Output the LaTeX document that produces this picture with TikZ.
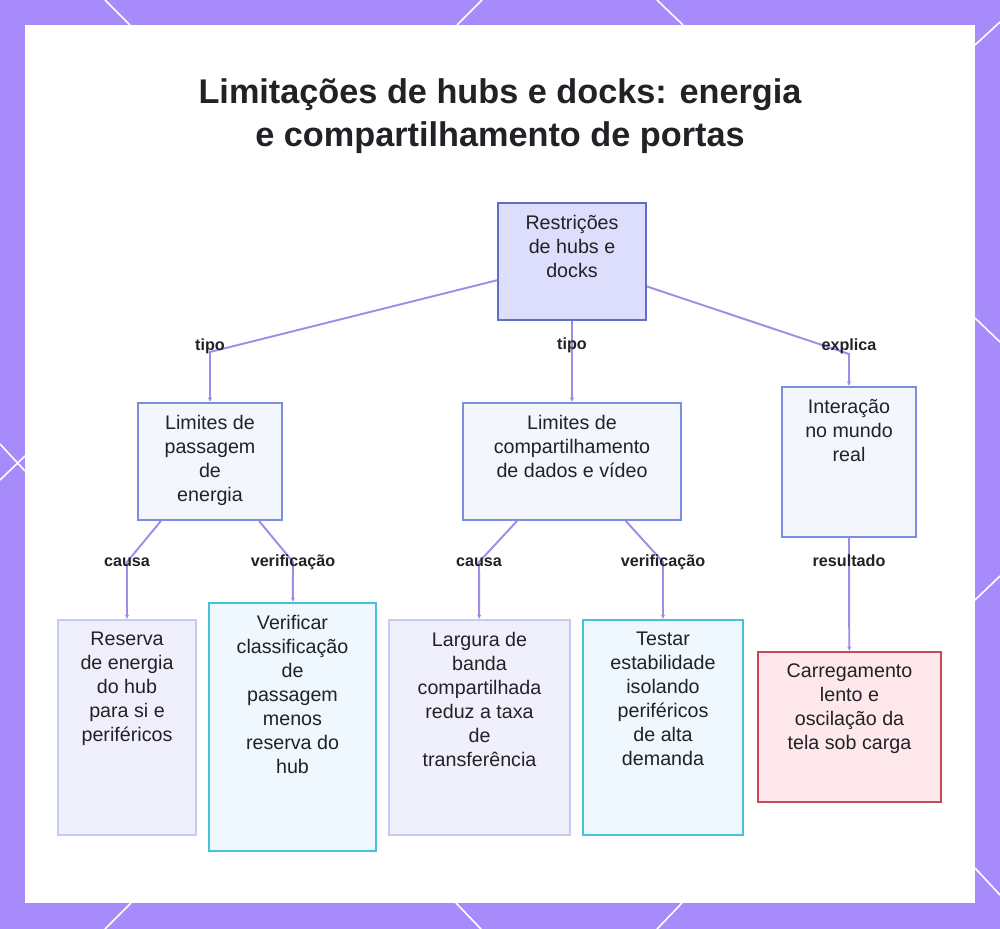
\documentclass[tikz,border=0pt]{standalone}
\usepackage{fontspec}
\setmainfont{Liberation Sans}
\usepackage{xcolor}
\usepackage{tikz}
\usetikzlibrary{arrows.meta,positioning,calc}
\definecolor{frame-violet}{RGB}{167,139,250}
\definecolor{link-violet}{RGB}{163,138,232}
\definecolor{ink}{RGB}{34,34,38}
\definecolor{root-fill}{RGB}{220,222,252}
\definecolor{root-line}{RGB}{96,110,196}
\definecolor{mid-fill}{RGB}{244,246,254}
\definecolor{mid-line}{RGB}{124,142,224}
\definecolor{leaf-fill}{RGB}{239,240,252}
\definecolor{leaf-line}{RGB}{198,203,240}
\definecolor{check-fill}{RGB}{238,248,254}
\definecolor{check-line}{RGB}{70,194,222}
\definecolor{warn-fill}{RGB}{255,232,235}
\definecolor{warn-line}{RGB}{200,72,90}

\begin{document}
\begin{tikzpicture}[
    x=0.02cm, y=-0.02cm,
    rootbox/.style={rectangle, draw=root-line, line width=1pt, fill=root-fill, minimum height=2.34cm},
    midbox/.style={rectangle, draw=mid-line, line width=1pt, fill=mid-fill},
    leafbox/.style={rectangle, draw=leaf-line, line width=1pt, fill=leaf-fill, minimum height=4.3cm},
    checkbox/.style={rectangle, draw=check-line, line width=1pt, fill=check-fill},
    warnbox/.style={rectangle, draw=warn-line, line width=1pt, fill=warn-fill, minimum width=3.66cm, minimum height=3cm},
    txt/.style={anchor=north, inner sep=0pt, align=center, text=ink, font=\fontsize{11.2}{13.7}\selectfont},
    lbl/.style={inner sep=1pt, text=ink, font=\fontsize{9.2}{10}\selectfont\bfseries},
    link/.style={draw=link-violet, line width=1.1pt, -{Latex[length=2.5pt,width=2.5pt]}},
    deco/.style={draw=white, line width=0.9pt}
]
\useasboundingbox (0,0) rectangle (1000,929);

% Frame
\fill[frame-violet] (0,0) rectangle (1000,929);
\fill[white] (25,25) rectangle (975,903);
\draw[deco] (105,0) -- (130,25);
\draw[deco] (482,0) -- (457,25);
\draw[deco] (657,0) -- (683,25);
\draw[deco] (131,903) -- (105,929);
\draw[deco] (456,903) -- (481,929);
\draw[deco] (682,903) -- (657,929);
\draw[deco] (0,444) -- (25,471);
\draw[deco] (0,480) -- (25,456);
\draw[deco] (975,45) -- (1000,22);
\draw[deco] (975,318) -- (1000,342);
\draw[deco] (975,600) -- (1000,576);
\draw[deco] (975,868) -- (1000,895);

% Title
\node[align=center, text=ink, font=\fontsize{19.5}{24.5}\selectfont\bfseries] (title) at (500,116.5)
    {Limitações de hubs e docks: energia\\e compartilhamento de portas};

% Root
\node[rootbox, minimum width=2.96cm] at (572,261.5) (root) {};
\node[txt] at ([yshift=-0.25cm]root.north) {Restrições\\de hubs e\\docks};

% Level 2
\node[midbox, minimum width=2.88cm, minimum height=2.34cm] at (210,461.5) (power) {};
\node[txt] at ([yshift=-0.25cm]power.north) {Limites de\\passagem\\de\\energia};
\node[midbox, minimum width=4.36cm, minimum height=2.34cm] at (572,461.5) (share) {};
\node[txt] at ([yshift=-0.25cm]share.north) {Limites de\\compartilhamento\\de dados e vídeo};
\node[midbox, minimum width=2.68cm, minimum height=3cm] at (849,462) (real) {};
\node[txt] at ([yshift=-0.25cm]real.north) {Interação\\no mundo\\real};

% Level 3
\node[leafbox, minimum width=2.76cm] at (127,727.5) (reserve) {};
\node[txt] at ([yshift=-0.25cm]reserve.north) {Reserva\\de energia\\do hub\\para si e\\periféricos};
\node[checkbox, minimum width=3.34cm, minimum height=4.96cm] at (292.5,727) (rating) {};
\node[txt] at ([yshift=-0.25cm]rating.north) {Verificar\\classificação\\de\\passagem\\menos\\reserva do\\hub};
\node[leafbox, minimum width=3.62cm] at (479.5,727.5) (bandwidth) {};
\node[txt] at ([yshift=-0.25cm]bandwidth.north) {Largura de\\banda\\compartilhada\\reduz a taxa\\de\\transferência};
\node[checkbox, minimum width=3.2cm, minimum height=4.3cm] at (663,727.5) (isolate) {};
\node[txt] at ([yshift=-0.25cm]isolate.north) {Testar\\estabilidade\\isolando\\periféricos\\de alta\\demanda};
\node[warnbox] at (849.5,727) (slow) {};
\node[txt] at ([yshift=-0.25cm]slow.north) {Carregamento\\lento e\\oscilação da\\tela sob carga};

% Bends
\coordinate (b-power) at (210,352);
\coordinate (b-share) at ($(root.south)!0.3!(share.north)$);
\coordinate (b-real) at (849,354);
\coordinate (b-reserve) at (127,562);
\coordinate (b-rating) at (293,562);
\coordinate (b-bandwidth) at (479,562);
\coordinate (b-isolate) at (663,562);
\coordinate (b-slow) at (849,561);

% Arrows
\draw[link] (root) -- (b-power) -- (power);
\draw[link] (root.south) -- (share.north);
\draw[link] (root) -- (b-real) -- (real);
\draw[link] (power) -- (b-reserve) -- (reserve);
\draw[link] (power) -- (b-rating) -- (rating);
\draw[link] (share) -- (b-bandwidth) -- (bandwidth);
\draw[link] (share) -- (b-isolate) -- (isolate);
\draw[link] (real) -- (b-slow) -- (slow);

% Labels
\node[lbl] at ([yshift=0.12cm]b-power) (l-power) {tipo};
\node[lbl] at (b-share) (l-share) {tipo};
\node[lbl] at ([yshift=0.16cm]b-real) (l-real) {explica};
\node[lbl] at (b-reserve) (l-reserve) {causa};
\node[lbl] at (b-rating) (l-rating) {verificação};
\node[lbl] at (b-bandwidth) (l-bandwidth) {causa};
\node[lbl] at (b-isolate) (l-isolate) {verificação};
\node[lbl] at (b-slow) (l-slow) {resultado};

\end{tikzpicture}
\end{document}
